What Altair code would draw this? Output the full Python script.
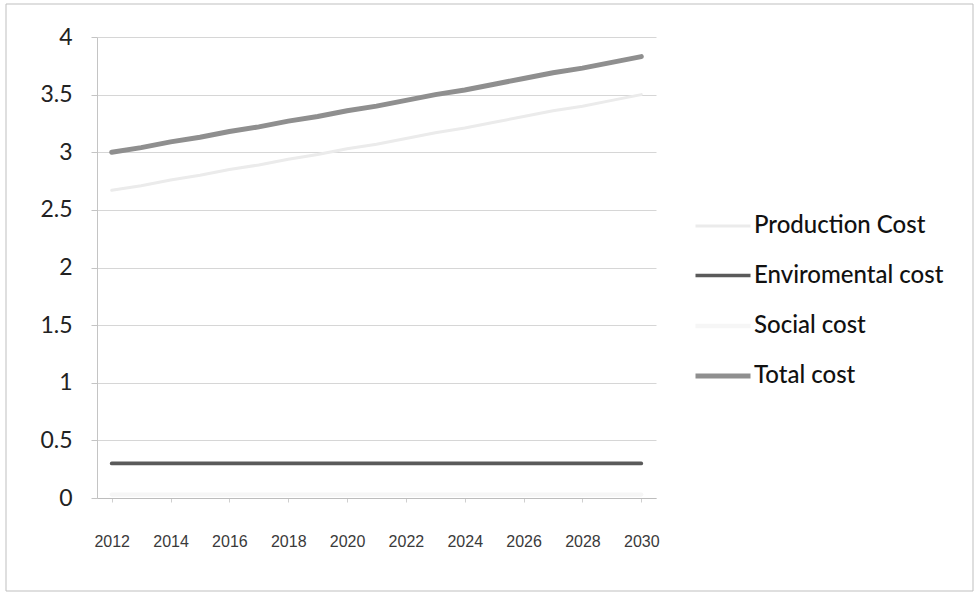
import altair as alt
import pandas as pd

# Yearly cost projections
years = list(range(2012, 2031))
production_cost = [2.67, 2.71, 2.76, 2.80, 2.85, 2.89, 2.94, 2.98, 3.03, 3.07,
                   3.12, 3.17, 3.21, 3.26, 3.31, 3.36, 3.40, 3.45, 3.50]
enviromental_cost = [0.30] * 19
social_cost = [0.03] * 19
total_cost = [3.00, 3.04, 3.09, 3.13, 3.18, 3.22, 3.27, 3.31, 3.36, 3.40,
              3.45, 3.50, 3.54, 3.59, 3.64, 3.69, 3.73, 3.78, 3.83]

series_names = ["Production Cost", "Enviromental cost", "Social cost", "Total cost"]
series_colors = ["#ebebeb", "#5a5a5a", "#f6f6f6", "#8f8f8f"]
series_widths = [3, 5, 3, 4]

rows = []
for name, vals in zip(series_names, [production_cost, enviromental_cost, social_cost, total_cost]):
    for y, v in zip(years, vals):
        rows.append({"year": y, "cost": v, "series": name})
df = pd.DataFrame(rows)

W, H = 559, 461
LEFT, TOP = 97, 37

lines = alt.Chart(df).mark_line(strokeCap="round").encode(
    x=alt.X("year:Q",
            scale=alt.Scale(domain=[2011.5, 2030.5], nice=False, zero=False),
            axis=alt.Axis(values=list(range(2012, 2031, 2)), format="d", title=None,
                          grid=False, domainColor="#bdbdbd", tickColor="#cfcfcf",
                          tickSize=4, labelPadding=31, labelFont="Liberation Sans",
                          labelFontSize=16, labelColor="#3a3a3a")),
    y=alt.Y("cost:Q",
            scale=alt.Scale(domain=[0, 4], nice=False),
            axis=alt.Axis(values=[0, 0.5, 1, 1.5, 2, 2.5, 3, 3.5, 4], format=".2~f",
                          title=None, gridColor="#d6d6d6", domainColor="#c4c4c4",
                          tickColor="#c4c4c4", tickSize=6, labelPadding=19,
                          labelFont="Lato", labelFontSize=23, labelColor="#222222")),
    color=alt.Color("series:N",
                    scale=alt.Scale(domain=series_names, range=series_colors),
                    sort=series_names,
                    legend=alt.Legend(title=None, orient="none", legendX=596, legendY=160,
                                      symbolType="stroke", symbolSize=3025,
                                      symbolStrokeWidth=4, labelFont="Lato",
                                      labelFontSize=24, labelFontWeight=500,
                                      labelColor="#111111", labelLimit=400,
                                      labelOffset=1, rowPadding=8)),
    strokeWidth=alt.StrokeWidth("series:N",
                                scale=alt.Scale(domain=series_names, range=series_widths),
                                legend=None),
    order=alt.Order("year:Q"),
)

# Outer frame around the whole figure
frame = alt.Chart(pd.DataFrame({"f": [0]})).mark_rect(
    fill=None, stroke="#bfbfbf", strokeWidth=1, clip=False
).encode(
    x=alt.value(-91), x2=alt.value(876),
    y=alt.value(-33), y2=alt.value(554),
)

chart = alt.layer(frame, lines).properties(
    width=W, height=H,
    padding={"left": LEFT, "top": TOP, "right": 976 - LEFT - W, "bottom": 595 - TOP - H},
    autosize=alt.AutoSizeParams(type="none"),
    background="white",
).configure_view(stroke=None)

chart.save("out.html", embed_options={"renderer": "svg", "actions": False})
